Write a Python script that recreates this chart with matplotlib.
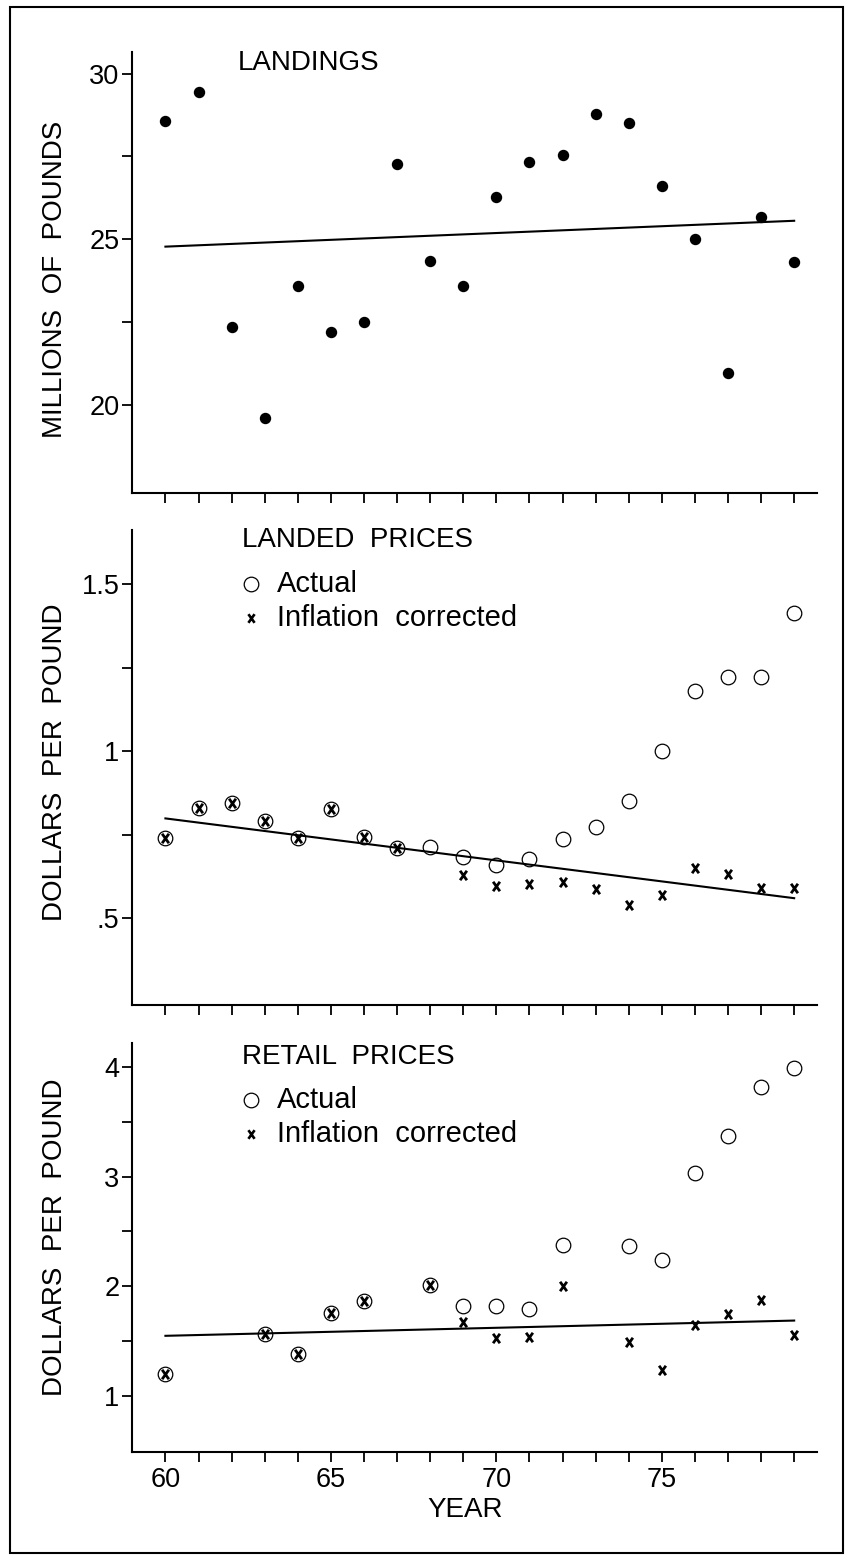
import matplotlib
matplotlib.use("Agg")
import matplotlib.pyplot as plt
from matplotlib.lines import Line2D
from matplotlib.patches import Rectangle
from matplotlib.path import Path

plt.rcParams['font.family'] = ['Liberation Sans', 'DejaVu Sans']

# --- data ---
years = list(range(60, 80))
landings = [28.57, 29.45, 22.35, 19.61, 23.60, 22.20, 22.52, 27.27, 24.35, 23.60,
            26.27, 27.32, 27.55, 28.78, 28.51, 26.60, 25.00, 20.96, 25.66, 24.31]
landings_trend = [24.78, 25.56]

landed_actual = [0.741, 0.831, 0.844, 0.791, 0.741, 0.828, 0.743, 0.711, 0.713, 0.683,
                 0.658, 0.678, 0.736, 0.773, 0.851, 1.002, 1.182, 1.222, 1.224, 1.413]
landed_corr_years = [60, 61, 62, 63, 64, 65, 66, 67, 69, 70, 71, 72, 73, 74, 75, 76, 77, 78, 79]
landed_corr = [0.741, 0.831, 0.844, 0.791, 0.741, 0.828, 0.743, 0.711, 0.629,
               0.597, 0.602, 0.607, 0.589, 0.539, 0.569, 0.651, 0.631, 0.590, 0.592]
landed_trend = [0.799, 0.560]

retail_years = [60, 63, 64, 65, 66, 68, 69, 70, 71, 72, 74, 75, 76, 77, 78, 79]
retail_actual = [1.201, 1.568, 1.380, 1.760, 1.867, 2.013, 1.818, 1.825, 1.792,
                 2.377, 2.370, 2.240, 3.036, 3.370, 3.815, 3.994]
retail_corr = [1.201, 1.568, 1.380, 1.760, 1.867, 2.013, 1.679, 1.532, 1.542,
               2.003, 1.494, 1.234, 1.649, 1.747, 1.873, 1.558]
retail_trend = [1.549, 1.688]
trend_years = [60, 79]

W, H = 853, 1560
fig = plt.figure(figsize=(W / 100, H / 100), dpi=100)

# typed-looking "x": a bit taller than wide
xmark = Path([(-0.72, -1), (0.72, 1), (-0.72, 1), (0.72, -1)],
             [Path.MOVETO, Path.LINETO, Path.MOVETO, Path.LINETO])


def fx(px):
    return px / W


def fy(py):
    return 1 - py / H


def make_ax(top, bottom, ylim, major, minor, labels):
    ax = fig.add_axes([fx(132), fy(bottom), fx(817) - fx(132), (bottom - top) / H])
    ax.set_xlim(58.99, 79.69)
    ax.set_ylim(*ylim)
    for s in ['top', 'right']:
        ax.spines[s].set_visible(False)
    for s in ['left', 'bottom']:
        ax.spines[s].set_linewidth(1.5)
    ax.set_xticks(years)
    ax.set_yticks(major)
    ax.set_yticklabels(labels)
    ax.set_yticks(minor, minor=True)
    ax.tick_params(axis='both', which='both', direction='out', length=7,
                   width=1.3, labelsize=19.5, pad=2)
    return ax


# top panel
ax1 = make_ax(52, 493, (17.35, 30.65), [20, 25, 30], [22.5, 27.5], ['20', '25', '30'])
ax1.set_xticklabels([])
ax1.plot(years, landings, 'o', color='black', ms=7.2, zorder=3)
ax1.plot(trend_years, landings_trend, '-', color='black', lw=1.5)

# middle panel
ax2 = make_ax(530, 1005, (0.240, 1.663), [0.5, 1.0, 1.5], [0.75, 1.25], ['.5', '1', '1.5'])
ax2.set_xticklabels([])
ax2.plot(years, landed_actual, 'o', mfc='none', mec='black', mew=0.9, ms=10.5)
ax2.plot(landed_corr_years, landed_corr, marker=xmark, ls='none', color='black', ms=6.8, mew=2.0)
ax2.plot(trend_years, landed_trend, '-', color='black', lw=1.5)

# bottom panel
ax3 = make_ax(1043, 1452, (0.49, 4.218), [1, 2, 3, 4], [1.5, 2.5, 3.5], ['1', '2', '3', '4'])
ax3.set_xticks([60, 65, 70, 75])
ax3.set_xticks(years, minor=True)
ax3.set_xticklabels(['60', '65', '70', '75'])
ax3.tick_params(axis='x', which='major', pad=4)
ax3.plot(retail_years, retail_actual, 'o', mfc='none', mec='black', mew=0.9, ms=10.5)
ax3.plot(retail_years, retail_corr, marker=xmark, ls='none', color='black', ms=6.8, mew=2.0)
ax3.plot(trend_years, retail_trend, '-', color='black', lw=1.5)

# axis labels
fig.text(fx(55), fy(279), 'MILLIONS  OF  POUNDS', rotation=90, ha='center', va='center', fontsize=20)
fig.text(fx(55), fy(762), 'DOLLARS  PER  POUND', rotation=90, ha='center', va='center', fontsize=20)
fig.text(fx(55), fy(1237), 'DOLLARS  PER  POUND', rotation=90, ha='center', va='center', fontsize=20)
fig.text(fx(465), fy(1510), 'YEAR', ha='center', va='center', fontsize=20)

# panel titles and legends
fig.text(fx(238), fy(63), 'LANDINGS', ha='left', va='center', fontsize=20)
for title, ty, ay, iy in [('LANDED  PRICES', 540, 584, 618),
                          ('RETAIL  PRICES', 1057, 1100, 1134)]:
    fig.text(fx(242), fy(ty), title, ha='left', va='center', fontsize=20)
    fig.add_artist(Line2D([fx(251)], [fy(ay)], marker='o', mfc='none', mec='black',
                          mew=0.9, ms=10.5, transform=fig.transFigure))
    fig.add_artist(Line2D([fx(251)], [fy(iy)], marker=xmark, ls='none', color='black',
                          ms=6.2, mew=1.9, transform=fig.transFigure))
    fig.text(fx(277), fy(ay), 'Actual', ha='left', va='center', fontsize=21)
    fig.text(fx(277), fy(iy), 'Inflation  corrected', ha='left', va='center', fontsize=21)

# outer frame
fig.add_artist(Rectangle((fx(10), fy(1553)), fx(843) - fx(10), (1553 - 7) / H,
                         fill=False, lw=1.5, ec='black', transform=fig.transFigure))

fig.savefig('out.png', dpi=100)
